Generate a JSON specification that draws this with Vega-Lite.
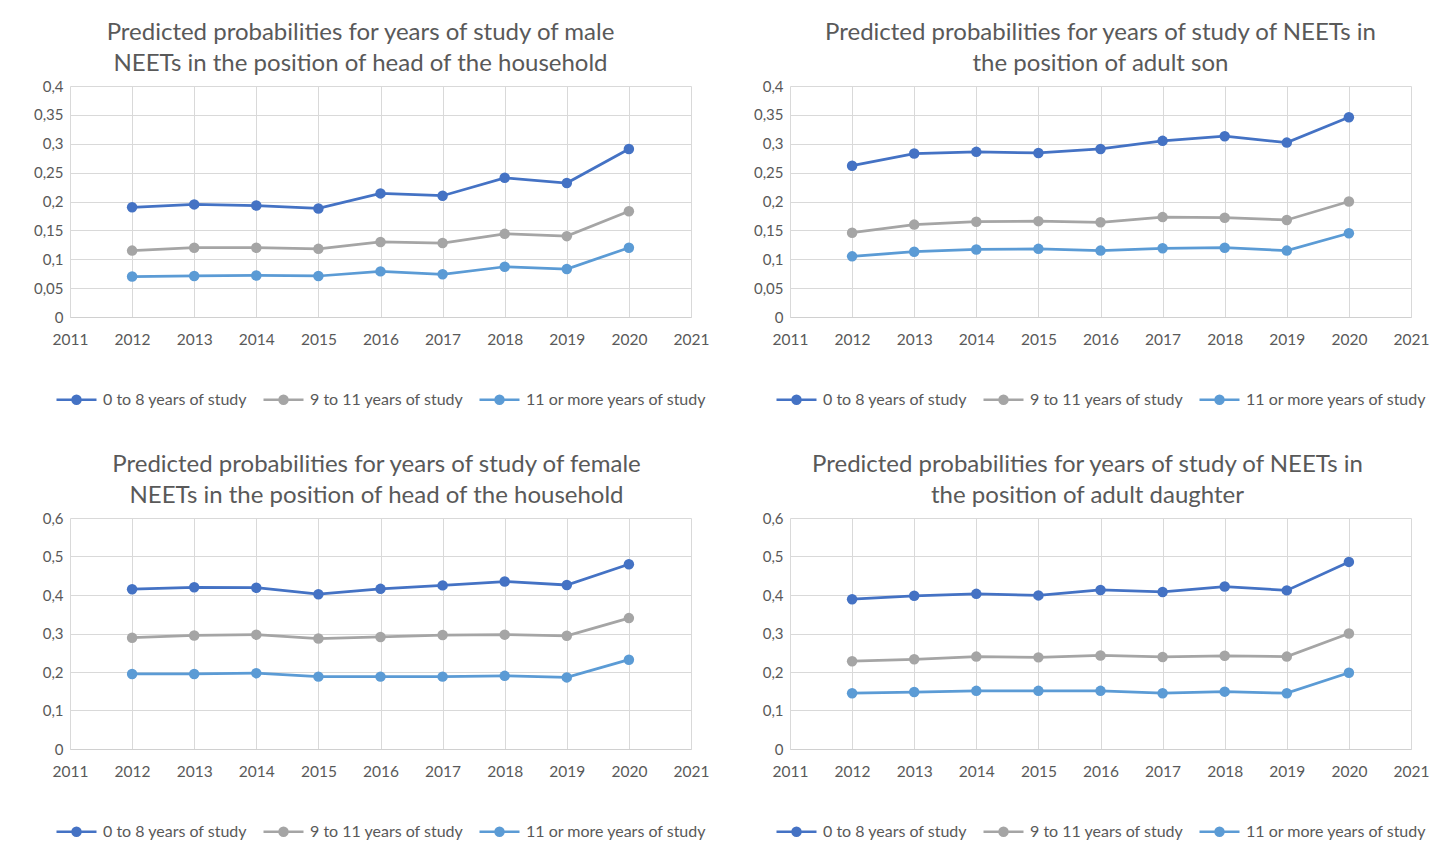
{
  "$schema": "https://vega.github.io/schema/vega-lite/v6.json",
  "background": "white",
  "padding": {"left": 33, "top": 21, "right": 5, "bottom": 5},
  "datasets": {
    "probs": [
      {"panel": "A", "group": "0 to 8 years of study", "year": 2012, "value": 0.190},
      {"panel": "A", "group": "0 to 8 years of study", "year": 2013, "value": 0.195},
      {"panel": "A", "group": "0 to 8 years of study", "year": 2014, "value": 0.193},
      {"panel": "A", "group": "0 to 8 years of study", "year": 2015, "value": 0.188},
      {"panel": "A", "group": "0 to 8 years of study", "year": 2016, "value": 0.214},
      {"panel": "A", "group": "0 to 8 years of study", "year": 2017, "value": 0.210},
      {"panel": "A", "group": "0 to 8 years of study", "year": 2018, "value": 0.241},
      {"panel": "A", "group": "0 to 8 years of study", "year": 2019, "value": 0.232},
      {"panel": "A", "group": "0 to 8 years of study", "year": 2020, "value": 0.291},
      {"panel": "A", "group": "9 to 11 years of study", "year": 2012, "value": 0.115},
      {"panel": "A", "group": "9 to 11 years of study", "year": 2013, "value": 0.120},
      {"panel": "A", "group": "9 to 11 years of study", "year": 2014, "value": 0.120},
      {"panel": "A", "group": "9 to 11 years of study", "year": 2015, "value": 0.118},
      {"panel": "A", "group": "9 to 11 years of study", "year": 2016, "value": 0.130},
      {"panel": "A", "group": "9 to 11 years of study", "year": 2017, "value": 0.128},
      {"panel": "A", "group": "9 to 11 years of study", "year": 2018, "value": 0.144},
      {"panel": "A", "group": "9 to 11 years of study", "year": 2019, "value": 0.140},
      {"panel": "A", "group": "9 to 11 years of study", "year": 2020, "value": 0.183},
      {"panel": "A", "group": "11 or more years of study", "year": 2012, "value": 0.070},
      {"panel": "A", "group": "11 or more years of study", "year": 2013, "value": 0.071},
      {"panel": "A", "group": "11 or more years of study", "year": 2014, "value": 0.072},
      {"panel": "A", "group": "11 or more years of study", "year": 2015, "value": 0.071},
      {"panel": "A", "group": "11 or more years of study", "year": 2016, "value": 0.079},
      {"panel": "A", "group": "11 or more years of study", "year": 2017, "value": 0.074},
      {"panel": "A", "group": "11 or more years of study", "year": 2018, "value": 0.087},
      {"panel": "A", "group": "11 or more years of study", "year": 2019, "value": 0.083},
      {"panel": "A", "group": "11 or more years of study", "year": 2020, "value": 0.120},

      {"panel": "B", "group": "0 to 8 years of study", "year": 2012, "value": 0.262},
      {"panel": "B", "group": "0 to 8 years of study", "year": 2013, "value": 0.283},
      {"panel": "B", "group": "0 to 8 years of study", "year": 2014, "value": 0.286},
      {"panel": "B", "group": "0 to 8 years of study", "year": 2015, "value": 0.284},
      {"panel": "B", "group": "0 to 8 years of study", "year": 2016, "value": 0.291},
      {"panel": "B", "group": "0 to 8 years of study", "year": 2017, "value": 0.305},
      {"panel": "B", "group": "0 to 8 years of study", "year": 2018, "value": 0.313},
      {"panel": "B", "group": "0 to 8 years of study", "year": 2019, "value": 0.302},
      {"panel": "B", "group": "0 to 8 years of study", "year": 2020, "value": 0.346},
      {"panel": "B", "group": "9 to 11 years of study", "year": 2012, "value": 0.146},
      {"panel": "B", "group": "9 to 11 years of study", "year": 2013, "value": 0.160},
      {"panel": "B", "group": "9 to 11 years of study", "year": 2014, "value": 0.165},
      {"panel": "B", "group": "9 to 11 years of study", "year": 2015, "value": 0.166},
      {"panel": "B", "group": "9 to 11 years of study", "year": 2016, "value": 0.164},
      {"panel": "B", "group": "9 to 11 years of study", "year": 2017, "value": 0.173},
      {"panel": "B", "group": "9 to 11 years of study", "year": 2018, "value": 0.172},
      {"panel": "B", "group": "9 to 11 years of study", "year": 2019, "value": 0.168},
      {"panel": "B", "group": "9 to 11 years of study", "year": 2020, "value": 0.200},
      {"panel": "B", "group": "11 or more years of study", "year": 2012, "value": 0.105},
      {"panel": "B", "group": "11 or more years of study", "year": 2013, "value": 0.113},
      {"panel": "B", "group": "11 or more years of study", "year": 2014, "value": 0.117},
      {"panel": "B", "group": "11 or more years of study", "year": 2015, "value": 0.118},
      {"panel": "B", "group": "11 or more years of study", "year": 2016, "value": 0.115},
      {"panel": "B", "group": "11 or more years of study", "year": 2017, "value": 0.119},
      {"panel": "B", "group": "11 or more years of study", "year": 2018, "value": 0.120},
      {"panel": "B", "group": "11 or more years of study", "year": 2019, "value": 0.115},
      {"panel": "B", "group": "11 or more years of study", "year": 2020, "value": 0.145},

      {"panel": "C", "group": "0 to 8 years of study", "year": 2012, "value": 0.415},
      {"panel": "C", "group": "0 to 8 years of study", "year": 2013, "value": 0.420},
      {"panel": "C", "group": "0 to 8 years of study", "year": 2014, "value": 0.419},
      {"panel": "C", "group": "0 to 8 years of study", "year": 2015, "value": 0.402},
      {"panel": "C", "group": "0 to 8 years of study", "year": 2016, "value": 0.416},
      {"panel": "C", "group": "0 to 8 years of study", "year": 2017, "value": 0.425},
      {"panel": "C", "group": "0 to 8 years of study", "year": 2018, "value": 0.435},
      {"panel": "C", "group": "0 to 8 years of study", "year": 2019, "value": 0.426},
      {"panel": "C", "group": "0 to 8 years of study", "year": 2020, "value": 0.480},
      {"panel": "C", "group": "9 to 11 years of study", "year": 2012, "value": 0.289},
      {"panel": "C", "group": "9 to 11 years of study", "year": 2013, "value": 0.295},
      {"panel": "C", "group": "9 to 11 years of study", "year": 2014, "value": 0.297},
      {"panel": "C", "group": "9 to 11 years of study", "year": 2015, "value": 0.287},
      {"panel": "C", "group": "9 to 11 years of study", "year": 2016, "value": 0.291},
      {"panel": "C", "group": "9 to 11 years of study", "year": 2017, "value": 0.296},
      {"panel": "C", "group": "9 to 11 years of study", "year": 2018, "value": 0.297},
      {"panel": "C", "group": "9 to 11 years of study", "year": 2019, "value": 0.294},
      {"panel": "C", "group": "9 to 11 years of study", "year": 2020, "value": 0.340},
      {"panel": "C", "group": "11 or more years of study", "year": 2012, "value": 0.195},
      {"panel": "C", "group": "11 or more years of study", "year": 2013, "value": 0.195},
      {"panel": "C", "group": "11 or more years of study", "year": 2014, "value": 0.197},
      {"panel": "C", "group": "11 or more years of study", "year": 2015, "value": 0.188},
      {"panel": "C", "group": "11 or more years of study", "year": 2016, "value": 0.188},
      {"panel": "C", "group": "11 or more years of study", "year": 2017, "value": 0.188},
      {"panel": "C", "group": "11 or more years of study", "year": 2018, "value": 0.190},
      {"panel": "C", "group": "11 or more years of study", "year": 2019, "value": 0.186},
      {"panel": "C", "group": "11 or more years of study", "year": 2020, "value": 0.232},

      {"panel": "D", "group": "0 to 8 years of study", "year": 2012, "value": 0.389},
      {"panel": "D", "group": "0 to 8 years of study", "year": 2013, "value": 0.398},
      {"panel": "D", "group": "0 to 8 years of study", "year": 2014, "value": 0.403},
      {"panel": "D", "group": "0 to 8 years of study", "year": 2015, "value": 0.399},
      {"panel": "D", "group": "0 to 8 years of study", "year": 2016, "value": 0.413},
      {"panel": "D", "group": "0 to 8 years of study", "year": 2017, "value": 0.408},
      {"panel": "D", "group": "0 to 8 years of study", "year": 2018, "value": 0.422},
      {"panel": "D", "group": "0 to 8 years of study", "year": 2019, "value": 0.412},
      {"panel": "D", "group": "0 to 8 years of study", "year": 2020, "value": 0.486},
      {"panel": "D", "group": "9 to 11 years of study", "year": 2012, "value": 0.228},
      {"panel": "D", "group": "9 to 11 years of study", "year": 2013, "value": 0.233},
      {"panel": "D", "group": "9 to 11 years of study", "year": 2014, "value": 0.240},
      {"panel": "D", "group": "9 to 11 years of study", "year": 2015, "value": 0.238},
      {"panel": "D", "group": "9 to 11 years of study", "year": 2016, "value": 0.243},
      {"panel": "D", "group": "9 to 11 years of study", "year": 2017, "value": 0.239},
      {"panel": "D", "group": "9 to 11 years of study", "year": 2018, "value": 0.242},
      {"panel": "D", "group": "9 to 11 years of study", "year": 2019, "value": 0.240},
      {"panel": "D", "group": "9 to 11 years of study", "year": 2020, "value": 0.300},
      {"panel": "D", "group": "11 or more years of study", "year": 2012, "value": 0.145},
      {"panel": "D", "group": "11 or more years of study", "year": 2013, "value": 0.148},
      {"panel": "D", "group": "11 or more years of study", "year": 2014, "value": 0.151},
      {"panel": "D", "group": "11 or more years of study", "year": 2015, "value": 0.151},
      {"panel": "D", "group": "11 or more years of study", "year": 2016, "value": 0.151},
      {"panel": "D", "group": "11 or more years of study", "year": 2017, "value": 0.145},
      {"panel": "D", "group": "11 or more years of study", "year": 2018, "value": 0.149},
      {"panel": "D", "group": "11 or more years of study", "year": 2019, "value": 0.145},
      {"panel": "D", "group": "11 or more years of study", "year": 2020, "value": 0.198}
    ]
  },
  "data": {"name": "probs"},
  "columns": 2,
  "bounds": "flush",
  "spacing": {"row": 201, "column": 99},
  "resolve": {
    "scale": {"x": "independent", "y": "independent", "color": "independent"},
    "legend": {"color": "independent"},
    "axis": {"x": "independent", "y": "independent"}
  },
  "concat": [
    {
      "width": 621, "height": 231,
      "title": {"text": ["Predicted probabilities for years of study of male", "NEETs in the position of head of the household"], "dx": -20},
      "transform": [{"filter": "datum.panel == 'A'"}],
      "mark": {"type": "line", "strokeWidth": 2.75, "point": {"filled": true, "size": 110}},
      "encoding": {
        "x": {"field": "year", "type": "quantitative", "scale": {"domain": [2011, 2021], "nice": false, "zero": false},
              "axis": {"values": [2011, 2012, 2013, 2014, 2015, 2016, 2017, 2018, 2019, 2020, 2021], "format": "d", "title": null}},
        "y": {"field": "value", "type": "quantitative", "scale": {"domain": [0, 0.4], "nice": false},
              "axis": {"values": [0, 0.05, 0.1, 0.15, 0.2, 0.25, 0.3, 0.35, 0.4], "title": null, "labelExpr": "replace(format(datum.value, '~g'), '.', ',')"}},
        "color": {"field": "group", "type": "nominal",
                  "scale": {"domain": ["0 to 8 years of study", "9 to 11 years of study", "11 or more years of study"], "range": ["#4472C4", "#A5A5A5", "#5B9BD5"]},
                  "legend": {"title": null}}
      }
    },
    {
      "width": 621, "height": 231,
      "title": {"text": ["Predicted probabilities for years of study of NEETs in", "the position of adult son"]},
      "transform": [{"filter": "datum.panel == 'B'"}],
      "mark": {"type": "line", "strokeWidth": 2.75, "point": {"filled": true, "size": 110}},
      "encoding": {
        "x": {"field": "year", "type": "quantitative", "scale": {"domain": [2011, 2021], "nice": false, "zero": false},
              "axis": {"values": [2011, 2012, 2013, 2014, 2015, 2016, 2017, 2018, 2019, 2020, 2021], "format": "d", "title": null}},
        "y": {"field": "value", "type": "quantitative", "scale": {"domain": [0, 0.4], "nice": false},
              "axis": {"values": [0, 0.05, 0.1, 0.15, 0.2, 0.25, 0.3, 0.35, 0.4], "title": null, "labelExpr": "replace(format(datum.value, '~g'), '.', ',')"}},
        "color": {"field": "group", "type": "nominal",
                  "scale": {"domain": ["0 to 8 years of study", "9 to 11 years of study", "11 or more years of study"], "range": ["#4472C4", "#A5A5A5", "#5B9BD5"]},
                  "legend": {"title": null}}
      }
    },
    {
      "width": 621, "height": 231,
      "title": {"text": ["Predicted probabilities for years of study of female", "NEETs in the position of head of the household"], "dx": -4},
      "transform": [{"filter": "datum.panel == 'C'"}],
      "mark": {"type": "line", "strokeWidth": 2.75, "point": {"filled": true, "size": 110}},
      "encoding": {
        "x": {"field": "year", "type": "quantitative", "scale": {"domain": [2011, 2021], "nice": false, "zero": false},
              "axis": {"values": [2011, 2012, 2013, 2014, 2015, 2016, 2017, 2018, 2019, 2020, 2021], "format": "d", "title": null}},
        "y": {"field": "value", "type": "quantitative", "scale": {"domain": [0, 0.6], "nice": false},
              "axis": {"values": [0, 0.1, 0.2, 0.3, 0.4, 0.5, 0.6], "title": null, "labelExpr": "replace(format(datum.value, '~g'), '.', ',')"}},
        "color": {"field": "group", "type": "nominal",
                  "scale": {"domain": ["0 to 8 years of study", "9 to 11 years of study", "11 or more years of study"], "range": ["#4472C4", "#A5A5A5", "#5B9BD5"]},
                  "legend": {"title": null}}
      }
    },
    {
      "width": 621, "height": 231,
      "title": {"text": ["Predicted probabilities for years of study of NEETs in", "the position of adult daughter"], "dx": -13},
      "transform": [{"filter": "datum.panel == 'D'"}],
      "mark": {"type": "line", "strokeWidth": 2.75, "point": {"filled": true, "size": 110}},
      "encoding": {
        "x": {"field": "year", "type": "quantitative", "scale": {"domain": [2011, 2021], "nice": false, "zero": false},
              "axis": {"values": [2011, 2012, 2013, 2014, 2015, 2016, 2017, 2018, 2019, 2020, 2021], "format": "d", "title": null}},
        "y": {"field": "value", "type": "quantitative", "scale": {"domain": [0, 0.6], "nice": false},
              "axis": {"values": [0, 0.1, 0.2, 0.3, 0.4, 0.5, 0.6], "title": null, "labelExpr": "replace(format(datum.value, '~g'), '.', ',')"}},
        "color": {"field": "group", "type": "nominal",
                  "scale": {"domain": ["0 to 8 years of study", "9 to 11 years of study", "11 or more years of study"], "range": ["#4472C4", "#A5A5A5", "#5B9BD5"]},
                  "legend": {"title": null}}
      }
    }
  ],
  "config": {
    "font": "Lato",
    "view": {"stroke": null},
    "title": {"font": "Lato", "fontSize": 24, "fontWeight": "normal", "color": "#595959", "anchor": "middle", "offset": 3, "lineHeight": 31},
    "axis": {"labelFont": "Lato", "labelFontSize": 15, "labelColor": "#595959", "gridColor": "#d9d9d9", "gridWidth": 1, "ticks": false, "domain": false},
    "axisX": {"labelPadding": 15, "labelFontSize": 15.5, "labelFlush": false, "domain": true, "domainColor": "#d0d0d0", "domainWidth": 1},
    "axisY": {"labelPadding": 7},
    "legend": {
      "orient": "bottom", "direction": "horizontal", "offset": 30,
      "labelFont": "Lato", "labelFontSize": 16, "labelColor": "#595959", "labelOffset": 5, "labelLimit": 400, "columnPadding": 10,
      "symbolType": "M-1,0H1M0.2,0A0.2,0.2 0 1,1 -0.2,0A0.2,0.2 0 1,1 0.2,0M0.12,0A0.12,0.12 0 1,1 -0.12,0A0.12,0.12 0 1,1 0.12,0M0.05,0A0.05,0.05 0 1,1 -0.05,0A0.05,0.05 0 1,1 0.05,0",
      "symbolSize": 1600, "symbolStrokeWidth": 2.5,
      "layout": {"bottom": {"anchor": "middle"}}
    }
  }
}
